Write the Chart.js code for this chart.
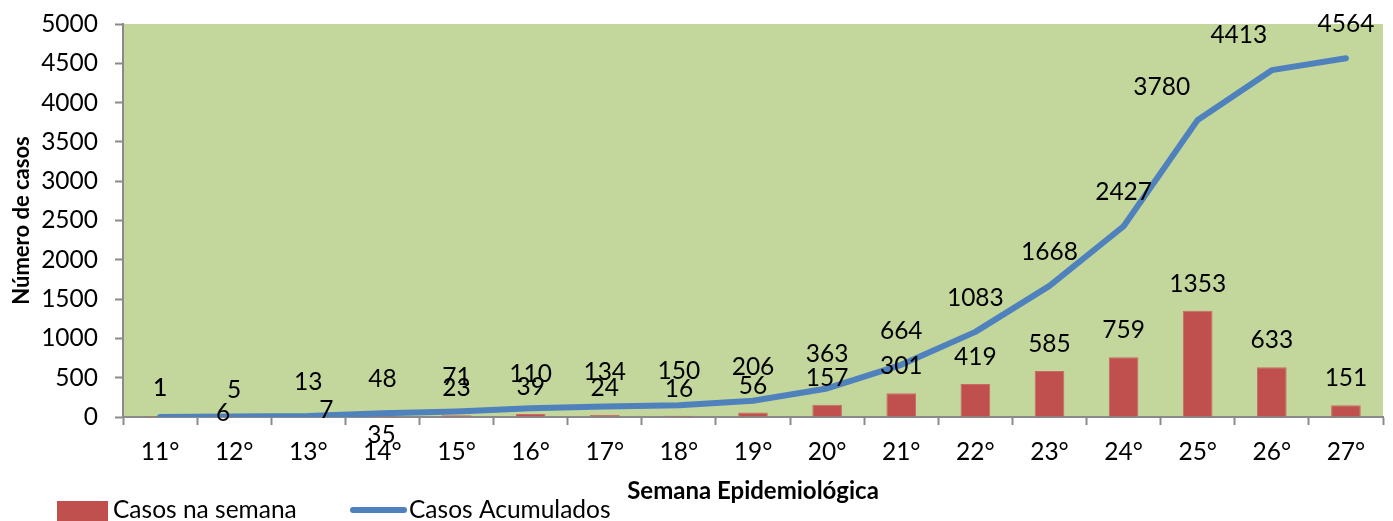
<!DOCTYPE html>
<html>
<head>
<meta charset="utf-8">
<script src="https://cdn.jsdelivr.net/npm/chart.js@4/dist/chart.umd.min.js"></script>
<style>
  html, body { margin: 0; padding: 0; background: #ffffff; }
  #wrap { width: 1393px; height: 521px; }
</style>
</head>
<body>
<div id="wrap"><canvas id="c" width="1393" height="521"></canvas></div>
<script>
// ---- data ----
const categories = ['11°','12°','13°','14°','15°','16°','17°','18°','19°','20°','21°','22°','23°','24°','25°','26°','27°'];
const casosSemana = [1, 5, 7, 35, 23, 39, 24, 16, 56, 157, 301, 419, 585, 759, 1353, 633, 151];
const casosAcumulados = [1, 6, 13, 48, 71, 110, 134, 150, 206, 363, 664, 1083, 1668, 2427, 3780, 4413, 4564];
const yTicks = [0, 500, 1000, 1500, 2000, 2500, 3000, 3500, 4000, 4500, 5000];
const seriesNames = ['Casos na semana', 'Casos Acumulados'];

// ---- styling ----
const FONT = 'Lato, "Liberation Sans", sans-serif';
const TXT = 24.5;
const AXIS_GRAY = '#8a8a8a';
const BAR_COLOR = '#c0504d';
const LINE_COLOR = '#4f81bd';
const PLOT_BG = '#c3d69b';

// label placement (style, not data): default offsets per dataset, special nudges by index
const labelStyle = [
  { dx: 0, dy: -27, nudges: { 0: [0, -29], 2: [18, -6], 3: [-1, 21] } },
  { dx: 0, dy: -34, nudges: { 0: [0, -29], 1: [-11, -3], 14: [-36, -33], 15: [-33, -35] } }
];

const plotBg = {
  id: 'plotBg',
  beforeDraw(chart) {
    const { ctx, chartArea: a } = chart;
    ctx.save();
    ctx.fillStyle = PLOT_BG;
    ctx.fillRect(a.left, a.top, a.right - a.left, a.bottom - a.top);
    ctx.restore();
  }
};

const dataLabels = {
  id: 'dataLabels',
  afterDatasetsDraw(chart) {
    const ctx = chart.ctx;
    ctx.save();
    ctx.font = TXT + 'px ' + FONT;
    ctx.fillStyle = '#000';
    ctx.textAlign = 'center';
    ctx.textBaseline = 'middle';
    chart.data.datasets.forEach((ds, di) => {
      const meta = chart.getDatasetMeta(di);
      const st = labelStyle[di];
      meta.data.forEach((el, i) => {
        const n = st.nudges[i] || [st.dx, st.dy];
        ctx.fillText(String(ds.data[i]), el.x + n[0], el.y + n[1]);
      });
    });
    ctx.restore();
  }
};

const customLegend = {
  id: 'customLegend',
  afterDraw(chart) {
    const ctx = chart.ctx;
    const ds = chart.data.datasets;
    ctx.save();
    ctx.font = TXT + 'px ' + FONT;
    ctx.textBaseline = 'middle';
    ctx.textAlign = 'left';
    const cy = 510;
    ctx.fillStyle = ds[0].backgroundColor;
    ctx.fillRect(57, 501, 51, 20);
    ctx.fillStyle = '#000';
    ctx.fillText(ds[0].label, 113, cy);
    ctx.strokeStyle = ds[1].borderColor;
    ctx.lineWidth = 6;
    ctx.lineCap = 'round';
    ctx.beginPath();
    ctx.moveTo(353, cy);
    ctx.lineTo(404, cy);
    ctx.stroke();
    ctx.fillText(ds[1].label, 409, cy);
    ctx.restore();
  }
};

new Chart(document.getElementById('c'), {
  type: 'bar',
  data: {
    labels: categories,
    datasets: [
      {
        type: 'bar',
        label: seriesNames[0],
        data: casosSemana,
        backgroundColor: BAR_COLOR,
        borderColor: '#c96a67',
        borderWidth: 1,
        barPercentage: 0.4,
        categoryPercentage: 1.0,
        order: 1
      },
      {
        type: 'line',
        label: seriesNames[1],
        data: casosAcumulados,
        borderColor: LINE_COLOR,
        backgroundColor: LINE_COLOR,
        borderWidth: 6,
        pointRadius: 0,
        tension: 0,
        borderCapStyle: 'round',
        borderJoinStyle: 'round',
        order: 0
      }
    ]
  },
  options: {
    responsive: false,
    animation: false,
    events: [],
    layout: { padding: { left: 0, right: 10, top: 24, bottom: 0 } },
    plugins: {
      legend: { display: false },
      tooltip: { enabled: false },
      title: { display: false }
    },
    scales: {
      x: {
        offset: true,
        grid: {
          display: true,
          offset: true,
          drawOnChartArea: false,
          drawTicks: true,
          tickLength: 8,
          tickColor: AXIS_GRAY,
          tickWidth: 2
        },
        border: { display: true, color: AXIS_GRAY, width: 2 },
        ticks: {
          color: '#000',
          font: { family: FONT, size: TXT },
          padding: 12,
          maxRotation: 0,
          autoSkip: false
        },
        title: {
          display: true,
          text: 'Semana Epidemiológica',
          color: '#000',
          font: { family: FONT, size: 24, weight: 'bold' },
          padding: { top: 0, bottom: 15 }
        },
        afterFit(scale) {
          scale.height = 104;
          scale.paddingLeft = 0;
          scale.paddingRight = 0;
        }
      },
      y: {
        min: 0,
        max: 5000,
        afterBuildTicks(scale) { scale.ticks = yTicks.map(v => ({ value: v })); },
        grid: {
          display: true,
          drawOnChartArea: false,
          drawTicks: true,
          tickLength: 8,
          tickColor: AXIS_GRAY,
          tickWidth: 2
        },
        border: { display: true, color: AXIS_GRAY, width: 2 },
        ticks: {
          color: '#000',
          font: { family: FONT, size: TXT },
          padding: 17,
          callback: (v) => String(v)
        },
        title: {
          display: true,
          text: 'Número de casos',
          color: '#000',
          font: { family: FONT, size: 22, weight: 'bold' },
          padding: { top: 9, bottom: 0 }
        },
        afterFit(scale) {
          scale.width = 123;
          scale.paddingTop = 0;
          scale.paddingBottom = 0;
        }
      }
    }
  },
  plugins: [plotBg, dataLabels, customLegend]
});
</script>
</body>
</html>
